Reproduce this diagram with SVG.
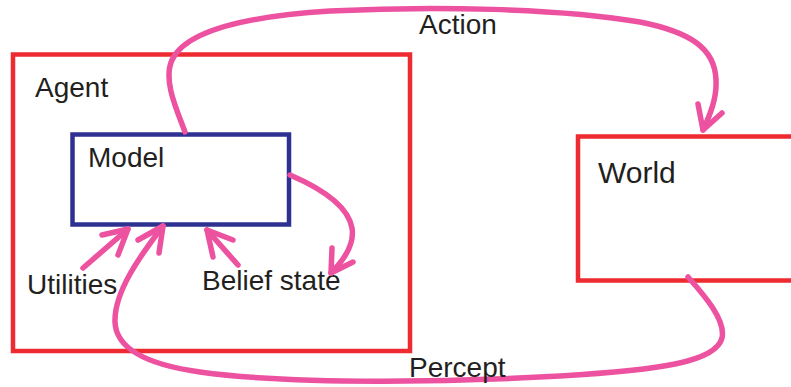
<svg xmlns="http://www.w3.org/2000/svg" width="791" height="387" viewBox="0 0 791 387">
  <style>
    .frame { fill: none; stroke: #ee2b30; stroke-width: 4.5; }
    .inner { fill: none; stroke: #2e3192; stroke-width: 4.5; }
    .flow { fill: none; stroke: #ec52a0; stroke-width: 5.5; stroke-linecap: round; stroke-linejoin: round; }
    .lbl { font-family: "Liberation Sans", Arial, sans-serif; font-size: 28px; fill: #231f20; }
  </style>
  <rect width="791" height="387" fill="#ffffff"/>

  <g id="agent">
    <rect class="frame" x="13" y="54.5" width="397" height="296.5"/>
    <text class="lbl" x="35" y="97">Agent</text>
  </g>

  <g id="model">
    <rect class="inner" x="72.5" y="134.5" width="216.5" height="90"/>
    <text class="lbl" x="88" y="167">Model</text>
  </g>

  <g id="world">
    <path class="frame" d="M795,136.5 H578 V280.5 H795"/>
    <text class="lbl" x="598" y="183" style="font-size:30px">World</text>
  </g>

  <g id="utilities">
    <text class="lbl" x="27" y="294">Utilities</text>
  </g>

  <g id="belief-state">
    <text class="lbl" x="202" y="290">Belief state</text>
  </g>

  <g id="connectors">
    <!-- Action: model to world -->
    <path class="flow" d="M185,132 C176,108 163,80 172,60 C186,30 250,16 330,11 C430,6 560,8 640,22 C690,32 715,48 716,80 C717,98 710,115 703,130"/>
    <path class="flow" d="M698,104 L703,130 L722,113"/>
    <text class="lbl" x="419" y="34">Action</text>

    <!-- Model updates belief state -->
    <path class="flow" d="M290,175 C318,187 348,205 352,228 C355,246 342,262 331,273"/>
    <path class="flow" d="M332,248 L331,273 L353,262"/>

    <!-- Utilities into model -->
    <path class="flow" d="M83,268 L128,229"/>
    <path class="flow" d="M102,235 L128,229 L118,255"/>

    <!-- Belief state into model -->
    <path class="flow" d="M238,265 L207,230"/>
    <path class="flow" d="M213,257 L207,230 L233,240"/>

    <!-- Percept: world back to model -->
    <path class="flow" d="M688,277 C704,295 726,320 722,338 C716,362 660,370 560,376 C470,381 300,386 200,372 C150,365 116,350 115,322 C114,292 140,256 163,226"/>
    <path class="flow" d="M138,240 L163,226 L159,253"/>
    <text class="lbl" x="409" y="377">Percept</text>
  </g>
</svg>
